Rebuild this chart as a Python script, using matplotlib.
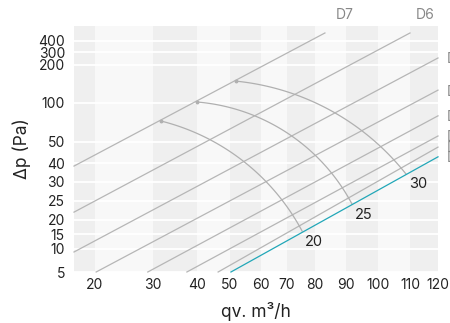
import numpy as np
import matplotlib
matplotlib.use("Agg")
import matplotlib.pyplot as plt

plt.rcParams['font.family'] = ['Inter', 'DejaVu Sans']

# axis ticks
x_ticks = [20, 30, 40, 50, 60, 70, 80, 90, 100, 110, 120]
y_ticks = [5, 10, 15, 20, 25, 30, 40, 50, 100, 200, 300, 400]
x_lim = (16, 120)
y_lim = (5, 600)

# characteristic lines: start (q0, p0) and end (q1, p1)
line_names = ["D7", "D6", "D5", "D4", "D3", "D2", "D1", "D0"]
line_q0 = [16, 16, 16, 20.2, 29.1, 37.7, 46.4, 50.3]
line_p0 = [38.5, 22.0, 9.35, 5, 5, 5, 5, 5]
line_q1 = [83.2, 110, 120, 120, 120, 120, 120, 120]
line_p1 = [507, 507, 254, 133, 83, 57.3, 47.5, 43]

# sound level arcs: start, middle and end point
arc_labels = ["20", "25", "30"]
arc_q = [[31.8, 57.7, 75.4], [40, 80.3, 91.9], [51.9, 86.5, 108.75]]
arc_p = [[76.4, 36.4, 16.1], [101.3, 43.4, 24.1], [157, 86.6, 34.2]]


def piecewise(xs, ys):
    xs = np.asarray(xs, float)
    ys = np.asarray(ys, float)

    def f(v):
        v = np.asarray(v, float)
        out = np.interp(v, xs, ys)
        lo_slope = (ys[1] - ys[0]) / (xs[1] - xs[0])
        hi_slope = (ys[-1] - ys[-2]) / (xs[-1] - xs[-2])
        out = np.where(v < xs[0], ys[0] + (v - xs[0]) * lo_slope, out)
        out = np.where(v > xs[-1], ys[-1] + (v - xs[-1]) * hi_slope, out)
        return out
    return f


# the chart uses an uneven scale, mapped by its tick positions
x_break = [16, 20, 30, 40, 50, 60, 70, 80, 90, 100, 110, 120]
x_pos = [74, 95, 153, 197, 230, 261, 287, 315, 346, 378, 410, 438]
y_break = [5, 10, 15, 20, 25, 30, 40, 50, 100, 200, 300, 400, 600]
y_pos = [-272, -249, -234.3, -219.7, -200.8, -181.8, -163.3, -141.7,
         -102.5, -65, -52, -41, -26]

fig = plt.figure(figsize=(4.5, 3.23), dpi=100)
ax = fig.add_axes([74 / 450, 51 / 323, 364 / 450, 246 / 323])
ax.set_xscale('function', functions=(piecewise(x_break, x_pos), piecewise(x_pos, x_break)))
ax.set_yscale('function', functions=(piecewise(y_break, y_pos), piecewise(y_pos, y_break)))
ax.set_xlim(*x_lim)
ax.set_ylim(*y_lim)

# background bands
ax.set_facecolor('#f8f8f8')
edges = [x_lim[0]] + x_ticks
for i in range(0, len(edges) - 1, 2):
    ax.axvspan(edges[i], edges[i + 1], color='#efefef', lw=0, zorder=0.2)

ax.set_axisbelow(True)
ax.yaxis.grid(True, color='white', lw=1.3)
ax.xaxis.grid(False)
for s in ax.spines.values():
    s.set_visible(False)

ax.set_xticks(x_ticks)
ax.set_xticklabels([str(t) for t in x_ticks])
ax.set_yticks(y_ticks)
ax.set_yticklabels([str(t) for t in y_ticks])
ax.minorticks_off()
ax.tick_params(axis='both', length=0, labelsize=10, labelcolor='#222222')
ax.tick_params(axis='x', pad=4)
ax.tick_params(axis='y', pad=6.5)

# lines
for i, name in enumerate(line_names):
    teal = i == len(line_names) - 1
    ax.plot([line_q0[i], line_q1[i]], [line_p0[i], line_p1[i]],
            color='#22a7b8' if teal else '#b6b6b6', lw=0.9, zorder=3 if teal else 2,
            clip_on=False)
    if i < 2:
        off = (14.4, 13) if i == 0 else (10.8, 13)
        ax.annotate(name, (line_q1[i], line_p1[i]), xytext=off, textcoords='offset points',
                    ha='center', va='center', fontsize=10, color='#888888',
                    annotation_clip=False)
    else:
        ax.annotate(name, (line_q1[i], line_p1[i]), xytext=(6.5, -1), textcoords='offset points',
                    ha='left', va='center', fontsize=10, color='#888888',
                    annotation_clip=False)

# arcs: circle through three points in display space
fig.canvas.draw()
for lab, qs, ps in zip(arc_labels, arc_q, arc_p):
    pts = ax.transData.transform(np.column_stack([qs, ps]))
    (ax1, ay1), (bx, by), (cx, cy) = pts
    d = 2 * (ax1 * (by - cy) + bx * (cy - ay1) + cx * (ay1 - by))
    ux = ((ax1**2 + ay1**2) * (by - cy) + (bx**2 + by**2) * (cy - ay1) + (cx**2 + cy**2) * (ay1 - by)) / d
    uy = ((ax1**2 + ay1**2) * (cx - bx) + (bx**2 + by**2) * (ax1 - cx) + (cx**2 + cy**2) * (bx - ax1)) / d
    r = np.hypot(ax1 - ux, ay1 - uy)
    a1 = np.arctan2(ay1 - uy, ax1 - ux)
    a3 = np.arctan2(cy - uy, cx - ux)
    da = (a3 - a1 + np.pi) % (2 * np.pi) - np.pi
    t = a1 + np.linspace(0, 1, 80) * da
    arc = np.column_stack([ux + r * np.cos(t), uy + r * np.sin(t)])
    arc_data = ax.transData.inverted().transform(arc)
    ax.plot(arc_data[:, 0], arc_data[:, 1], color='#b0b0b0', lw=0.9, zorder=2)
    ax.plot(qs[0], ps[0], 'o', ms=1.8, color='#b0b0b0', zorder=2)
    ax.annotate(lab, (qs[2], ps[2]), xytext=(8.6, -7.5), textcoords='offset points',
                ha='center', va='center', fontsize=10.5, color='#222222')

ax.set_xlabel('qv. m³/h', fontsize=12.5, color='#222222')
ax.set_ylabel('Δp (Pa)', fontsize=12.5, color='#222222')
ax.xaxis.set_label_coords((256 - 74) / 364, -0.12)
ax.yaxis.set_label_coords((31 - 74) / 364, 0.5)

fig.savefig('out.png', dpi=100)
